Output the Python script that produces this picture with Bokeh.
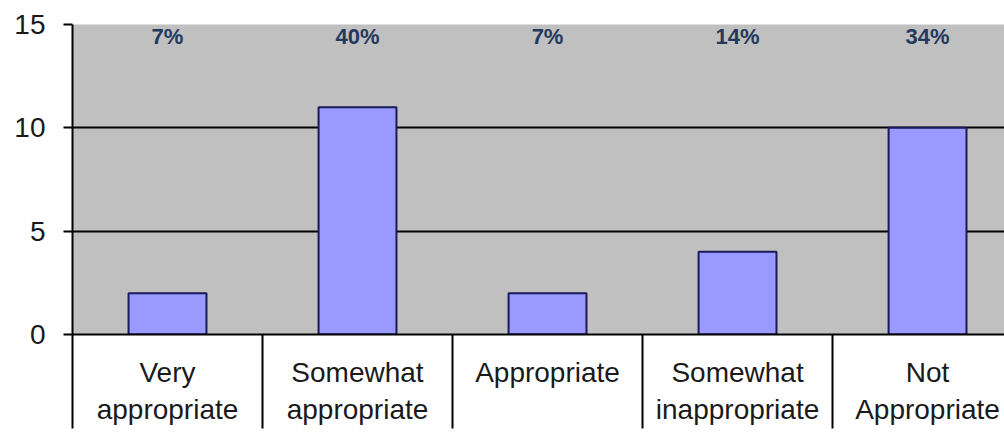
from bokeh.plotting import figure
from bokeh.models import Range1d, FixedTicker, Grid
from bokeh.core.properties import value
from bokeh.embed import file_html
from bokeh.resources import INLINE

# ---- data ----
categories = ["Very\nappropriate", "Somewhat\nappropriate", "Appropriate",
              "Somewhat\ninappropriate", "Not\nAppropriate"]
counts = [2, 11, 2, 4, 10]
percent_labels = ["7%", "40%", "7%", "14%", "34%"]
y_ticks = [0, 5, 10, 15]

# ---- derived positions ----
n = len(categories)
centers = [i + 0.5 for i in range(n)]
boundaries = [float(i) for i in range(n + 1)]
y_max = y_ticks[-1]

FONT = "Liberation Sans"

p = figure(width=1004, height=440, output_backend="svg", toolbar_location=None,
           x_range=Range1d(0, 4.905), y_range=Range1d(0, y_max),
           min_border_left=72, min_border_right=0, min_border_top=24,
           min_border_bottom=106)

p.background_fill_color = "#C0C0C0"
p.border_fill_color = "white"
p.outline_line_color = None

# grid
p.xgrid.visible = False
p.ygrid.ticker = FixedTicker(ticks=y_ticks[1:-1])
p.ygrid.grid_line_color = "black"
p.ygrid.grid_line_width = 2
top_grid = Grid(dimension=1, ticker=FixedTicker(ticks=[y_max]),
                grid_line_color="#808080", grid_line_width=2)
p.add_layout(top_grid)

# bars
p.vbar(x=centers, top=counts, bottom=0, width=0.41,
       fill_color="#9999FF", line_color="#1a1a5a", line_width=2)

# percentage labels along the top
p.text(x=centers, y=[y_max] * n, text=percent_labels,
       text_align="center", text_baseline="middle", y_offset=12,
       text_font=value(FONT), text_font_style="bold",
       text_font_size="22px", text_color="#23395d")

# y axis
ya = p.yaxis[0]
ya.ticker = FixedTicker(ticks=y_ticks)
ya.axis_line_color = "black"
ya.axis_line_width = 2
ya.major_tick_out = 9
ya.major_tick_in = 0
ya.major_tick_line_width = 2
ya.major_tick_line_color = "black"
ya.minor_tick_line_color = None
ya.major_label_standoff = 18
ya.major_label_text_font = FONT
ya.major_label_text_font_size = "28px"
ya.major_label_text_color = "#1a1a1a"

# x axis: labels at centres, long separators at boundaries
xa = p.xaxis[0]
xa.ticker = FixedTicker(ticks=centers, minor_ticks=boundaries)
xa.major_label_overrides = {c: lab for c, lab in zip(centers, categories)}
xa.axis_line_color = "black"
xa.axis_line_width = 2
xa.major_tick_line_color = None
xa.major_tick_out = 0
xa.major_tick_in = 0
xa.minor_tick_line_color = "black"
xa.minor_tick_line_width = 2
xa.minor_tick_out = 94
xa.minor_tick_in = 0
xa.major_label_standoff = -72
xa.major_label_text_font = FONT
xa.major_label_text_font_size = "28px"
xa.major_label_text_color = "#1a1a1a"

open("out.html", "w").write(file_html(p, INLINE))
